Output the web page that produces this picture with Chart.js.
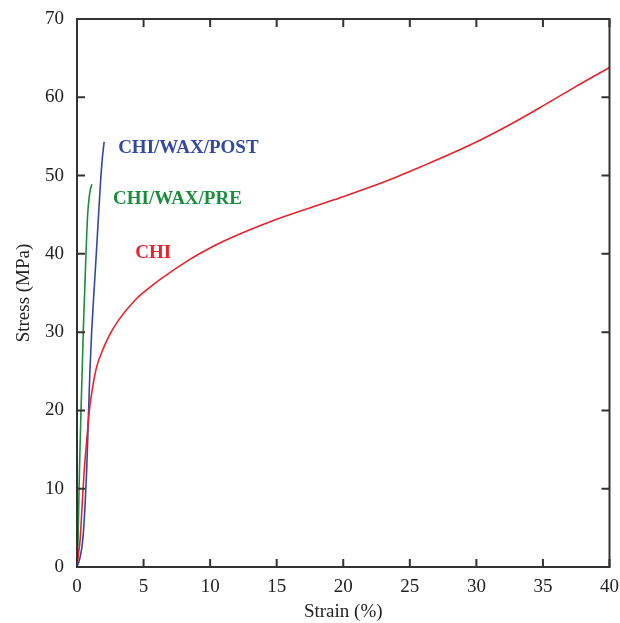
<!DOCTYPE html>
<html>
<head>
    <title>Stress-Strain</title>
    <script src="https://cdn.jsdelivr.net/npm/chart.js"></script>
    <style>
        body {
            margin: 0;
            background-color: #ffffff;
        }
        .chart-container {
            width: 620px;
            height: 623px;
        }
    </style>
</head>
<body>
    <div class="chart-container">
        <canvas id="stressChart"></canvas>
    </div>

    <script>
        // Curves: strain (%) and stress (MPa)
        const chiStrain = [0, 0.12, 0.23, 0.38, 0.53, 0.73, 0.93, 1.2, 1.48, 1.9, 2.4, 3.11, 4.37, 5.3, 6.38, 8.39, 9.3, 11.0, 14.5, 19.3, 23.1, 25.8, 29.4, 32.4, 35.1, 37.4, 40.0];
        const chiStress = [0, 1.8, 3.4, 7.7, 12, 16.2, 20, 23.2, 25.6, 27.6, 29.5, 31.5, 34.1, 35.5, 36.9, 39.2, 40.1, 41.6, 44.1, 46.9, 49.2, 51.1, 53.8, 56.4, 59.0, 61.3, 63.8];

        const preStrain = [0, 0.08, 0.13, 0.18, 0.24, 0.3, 0.39, 0.47, 0.55, 0.635, 0.72, 0.8, 0.9, 1.0, 1.12];
        const preStress = [0, 3.4, 7.7, 12, 16, 20, 25, 30, 34, 38, 42, 45, 47, 48.2, 48.9];

        const postStrain = [0, 0.2, 0.43, 0.6, 0.72, 0.8, 0.87, 0.97, 1.1, 1.27, 1.45, 1.62, 1.8, 1.92, 2.04];
        const postStress = [0, 1, 3.4, 7.7, 12, 16, 20, 25, 30, 35, 40, 45, 50, 52.5, 54.3];

        const seriesNames = ['CHI', 'CHI/WAX/PRE', 'CHI/WAX/POST'];
        const seriesColors = ['#e8232b', '#1c8c3e', '#3447a3'];
        // where each name sits, in data units (strain, stress)
        const labelX = [4.37, 2.71, 3.09];
        const labelY = [40.1, 47.0, 53.5];

        const xTicks = [0, 5, 10, 15, 20, 25, 30, 35, 40];
        const yTicks = [0, 10, 20, 30, 40, 50, 60, 70];

        const serif = '"Liberation Serif", "Times New Roman", serif';

        function toPoints(xs, ys) {
            return xs.map((x, i) => ({ x: x, y: ys[i] }));
        }

        // frame, inward ticks and series names
        const framePlugin = {
            id: 'frame',
            afterDraw(chart) {
                const ctx = chart.ctx;
                const a = chart.chartArea;
                const xs = chart.scales.x;
                const ys = chart.scales.y;
                ctx.save();
                ctx.strokeStyle = '#333333';
                ctx.lineWidth = 2;
                ctx.strokeRect(a.left, a.top, a.right - a.left, a.bottom - a.top);
                ctx.beginPath();
                xTicks.forEach(v => {
                    const px = xs.getPixelForValue(v);
                    ctx.moveTo(px, a.bottom); ctx.lineTo(px, a.bottom - 8);
                    ctx.moveTo(px, a.top); ctx.lineTo(px, a.top + 8);
                });
                yTicks.forEach(v => {
                    const py = ys.getPixelForValue(v);
                    ctx.moveTo(a.left, py); ctx.lineTo(a.left + 8, py);
                    ctx.moveTo(a.right, py); ctx.lineTo(a.right - 8, py);
                });
                ctx.stroke();

                ctx.font = 'bold 19px ' + serif;
                ctx.textBaseline = 'middle';
                ctx.textAlign = 'left';
                seriesNames.forEach((name, i) => {
                    ctx.fillStyle = seriesColors[i];
                    ctx.fillText(name, xs.getPixelForValue(labelX[i]), ys.getPixelForValue(labelY[i]));
                });
                ctx.restore();
            }
        };

        const ctx = document.getElementById('stressChart').getContext('2d');
        const chart = new Chart(ctx, {
            type: 'line',
            data: {
                datasets: [
                    { label: seriesNames[0], data: toPoints(chiStrain, chiStress) },
                    { label: seriesNames[1], data: toPoints(preStrain, preStress) },
                    { label: seriesNames[2], data: toPoints(postStrain, postStress) }
                ].map((d, i) => Object.assign(d, {
                    borderColor: seriesColors[i],
                    borderWidth: 1.6,
                    pointRadius: 0,
                    fill: false,
                    cubicInterpolationMode: 'monotone'
                }))
            },
            options: {
                responsive: true,
                maintainAspectRatio: false,
                animation: false,
                layout: {
                    padding: { top: 19, right: 10, left: 0, bottom: 0 }
                },
                plugins: {
                    legend: { display: false },
                    tooltip: { enabled: false }
                },
                scales: {
                    x: {
                        type: 'linear',
                        min: 0,
                        max: 40,
                        afterBuildTicks: s => { s.ticks = xTicks.map(v => ({ value: v })); },
                        afterFit: s => { s.height = 56; },
                        grid: { display: false },
                        border: { display: false },
                        ticks: {
                            color: '#222222',
                            padding: 1,
                            font: { family: serif, size: 19 }
                        },
                        title: {
                            display: true,
                            text: 'Strain (%)',
                            color: '#222222',
                            padding: 0,
                            font: { family: serif, size: 19 }
                        }
                    },
                    y: {
                        type: 'linear',
                        min: 0,
                        max: 70,
                        afterBuildTicks: s => { s.ticks = yTicks.map(v => ({ value: v })); },
                        afterFit: s => { s.width = 77; },
                        grid: { display: false },
                        border: { display: false },
                        ticks: {
                            color: '#222222',
                            padding: 5,
                            font: { family: serif, size: 19 }
                        },
                        title: {
                            display: true,
                            text: 'Stress (MPa)',
                            color: '#222222',
                            padding: { top: 13, bottom: 0 },
                            font: { family: serif, size: 19 }
                        }
                    }
                }
            },
            plugins: [framePlugin]
        });
    </script>
</body>
</html>
